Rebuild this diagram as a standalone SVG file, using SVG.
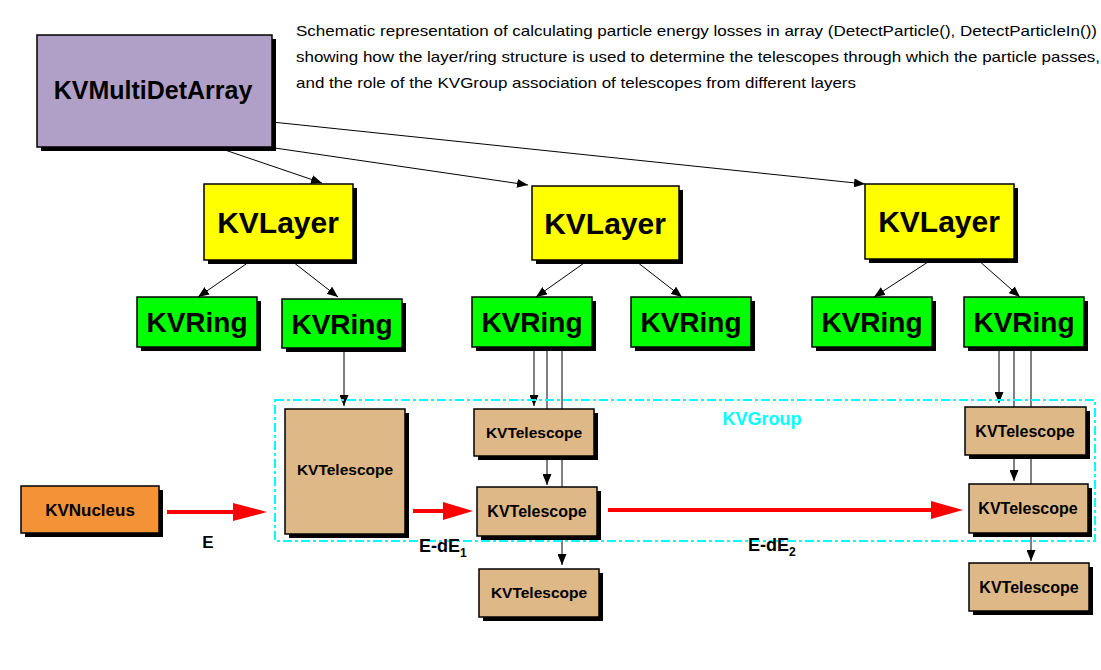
<svg xmlns="http://www.w3.org/2000/svg" width="1101" height="670" viewBox="0 0 1101 670">
<style>
text{font-family:"Liberation Sans",Arial,sans-serif;}
.lbl{font-weight:bold;fill:#000;text-anchor:middle;}
.sh{fill:#000;}
.bx{stroke:#000;stroke-width:1.5;}
.arr{fill:#b0a0c8;}
.lay{fill:#ffff00;}
.ring{fill:#00ff00;}
.tel{fill:#deb887;}
.nuc{fill:#f39237;}
.con{stroke:#000;stroke-width:1;fill:none;marker-end:url(#ah);}
.red{stroke:#ff0000;stroke-width:4;fill:none;}
.redh{fill:#ff0000;}
.desc{font-size:15px;fill:#000;}
</style>
<defs>
<marker id="ah" markerUnits="userSpaceOnUse" markerWidth="11" markerHeight="9" refX="11" refY="4.5" orient="auto">
<path d="M0,0 L11,4.5 L0,9 z" fill="#000"/>
</marker>
</defs>
<rect width="1101" height="670" fill="#fff"/>
<g id="description">
<text class="desc" x="296" y="36" textLength="801" lengthAdjust="spacingAndGlyphs">Schematic representation of calculating particle energy losses in array (DetectParticle(), DetectParticleIn())</text>
<text class="desc" x="296" y="62" textLength="804" lengthAdjust="spacingAndGlyphs">showing how the layer/ring structure is used to determine the telescopes through which the particle passes,</text>
<text class="desc" x="296" y="88" textLength="560" lengthAdjust="spacingAndGlyphs">and the role of the KVGroup association of telescopes from different layers</text>
</g>
<g id="connectors">
<line class="con" x1="222" y1="149" x2="322" y2="183"/>
<line class="con" x1="268" y1="147" x2="528" y2="185"/>
<line class="con" x1="272" y1="122" x2="865" y2="184"/>
<line class="con" x1="249" y1="262" x2="198" y2="297"/>
<line class="con" x1="293" y1="262" x2="338" y2="297"/>
<line class="con" x1="587" y1="261" x2="536" y2="297"/>
<line class="con" x1="637" y1="262" x2="682" y2="297"/>
<line class="con" x1="928" y1="262" x2="874" y2="297"/>
<line class="con" x1="978" y1="260" x2="1020" y2="297"/>
<line class="con" x1="344" y1="349" x2="344" y2="406"/>
<line class="con" x1="534" y1="351" x2="534" y2="406"/>
<line class="con" x1="547" y1="351" x2="547" y2="485"/>
<line class="con" x1="562" y1="351" x2="562" y2="565"/>
<line class="con" x1="999" y1="350" x2="999" y2="403"/>
<line class="con" x1="1014" y1="350" x2="1014" y2="481"/>
<line class="con" x1="1031" y1="350" x2="1031" y2="561"/>
</g>
<g id="KVGroup">
<rect x="275" y="400" width="820" height="141" fill="none" stroke="#00ffff" stroke-width="2" stroke-dasharray="9,3,3,3"/>
<text x="762" y="425" font-size="18" font-weight="bold" fill="#00ffff" text-anchor="middle">KVGroup</text>
</g>
<g id="KVMultiDetArray">
<rect class="sh" x="41" y="39" width="235" height="112"/>
<rect class="bx arr" x="37" y="35" width="235" height="112"/>
<text class="lbl" x="153" y="99" font-size="25">KVMultiDetArray</text>
</g>
<g id="KVLayer1">
<rect class="sh" x="208" y="188" width="149" height="76"/>
<rect class="bx lay" x="204" y="184" width="149" height="76"/>
<text class="lbl" x="278" y="233" font-size="30">KVLayer</text>
</g>
<g id="KVLayer2">
<rect class="sh" x="536" y="190" width="147" height="74"/>
<rect class="bx lay" x="532" y="186" width="147" height="74"/>
<text class="lbl" x="605" y="234" font-size="30">KVLayer</text>
</g>
<g id="KVLayer3">
<rect class="sh" x="869" y="188" width="149" height="75"/>
<rect class="bx lay" x="865" y="184" width="149" height="75"/>
<text class="lbl" x="939" y="232" font-size="30">KVLayer</text>
</g>
<g id="KVRing1">
<rect class="sh" x="141" y="301" width="120" height="50"/>
<rect class="bx ring" x="137" y="297" width="120" height="50"/>
<text class="lbl" x="197" y="332" font-size="28">KVRing</text>
</g>
<g id="KVRing2">
<rect class="sh" x="286" y="303" width="120" height="49"/>
<rect class="bx ring" x="282" y="299" width="120" height="49"/>
<text class="lbl" x="342" y="334" font-size="28">KVRing</text>
</g>
<g id="KVRing3">
<rect class="sh" x="476" y="301" width="120" height="50"/>
<rect class="bx ring" x="472" y="297" width="120" height="50"/>
<text class="lbl" x="532" y="332" font-size="28">KVRing</text>
</g>
<g id="KVRing4">
<rect class="sh" x="635" y="301" width="120" height="50"/>
<rect class="bx ring" x="631" y="297" width="120" height="50"/>
<text class="lbl" x="691" y="332" font-size="28">KVRing</text>
</g>
<g id="KVRing5">
<rect class="sh" x="816" y="301" width="120" height="50"/>
<rect class="bx ring" x="812" y="297" width="120" height="50"/>
<text class="lbl" x="872" y="332" font-size="28">KVRing</text>
</g>
<g id="KVRing6">
<rect class="sh" x="968" y="301" width="120" height="50"/>
<rect class="bx ring" x="964" y="297" width="120" height="50"/>
<text class="lbl" x="1024" y="332" font-size="28">KVRing</text>
</g>
<g id="KVTelescope1">
<rect class="sh" x="289" y="413" width="120" height="125"/>
<rect class="bx tel" x="285" y="409" width="120" height="125"/>
<text class="lbl" x="345" y="475" font-size="15.5">KVTelescope</text>
</g>
<g id="KVTelescope2">
<rect class="sh" x="478" y="413" width="120" height="47"/>
<rect class="bx tel" x="474" y="409" width="120" height="47"/>
<text class="lbl" x="534" y="438" font-size="15.5">KVTelescope</text>
</g>
<g id="KVTelescope3">
<rect class="sh" x="481" y="491" width="120" height="49"/>
<rect class="bx tel" x="477" y="487" width="120" height="49"/>
<text class="lbl" x="537" y="517" font-size="16">KVTelescope</text>
</g>
<g id="KVTelescope4">
<rect class="sh" x="483" y="573" width="120" height="48"/>
<rect class="bx tel" x="479" y="569" width="120" height="48"/>
<text class="lbl" x="539" y="598" font-size="15.5">KVTelescope</text>
</g>
<g id="KVTelescope5">
<rect class="sh" x="969" y="411" width="121" height="48"/>
<rect class="bx tel" x="965" y="407" width="121" height="48"/>
<text class="lbl" x="1025" y="437" font-size="16">KVTelescope</text>
</g>
<g id="KVTelescope6">
<rect class="sh" x="973" y="488" width="119" height="49"/>
<rect class="bx tel" x="969" y="484" width="119" height="49"/>
<text class="lbl" x="1028" y="514" font-size="16">KVTelescope</text>
</g>
<g id="KVTelescope7">
<rect class="sh" x="973" y="567" width="120" height="48"/>
<rect class="bx tel" x="969" y="563" width="120" height="48"/>
<text class="lbl" x="1029" y="593" font-size="16">KVTelescope</text>
</g>
<g id="KVNucleus">
<rect class="sh" x="25" y="490" width="138" height="47"/>
<rect class="bx nuc" x="21" y="486" width="138" height="47"/>
<text class="lbl" x="90" y="516" font-size="17">KVNucleus</text>
</g>
<g id="particle-path">
<line class="red" x1="167" y1="512" x2="236" y2="512"/>
<polygon class="redh" points="233,503 267,512 233,521"/>
<line class="red" x1="413" y1="511" x2="445" y2="511"/>
<polygon class="redh" points="443,502 473,511 443,520"/>
<line class="red" x1="608" y1="510" x2="933" y2="510"/>
<polygon class="redh" points="931,501 963,510 931,519"/>
<text class="lbl" x="208" y="548" font-size="17">E</text>
<text x="419" y="552" font-size="18" font-weight="bold">E-dE<tspan font-size="12" dy="5">1</tspan></text>
<text x="748" y="551" font-size="18" font-weight="bold">E-dE<tspan font-size="12" dy="5">2</tspan></text>
</g>
</svg>
